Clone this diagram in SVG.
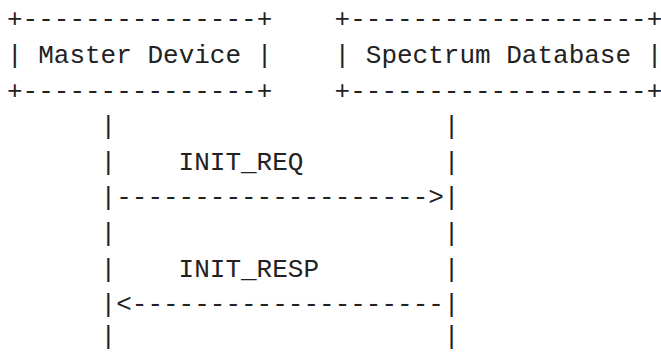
<svg xmlns="http://www.w3.org/2000/svg" width="661" height="352" viewBox="0 0 661 352">
<style>
text{font-family:"Liberation Mono","DejaVu Sans Mono",monospace;font-size:26px;fill:#222;white-space:pre}
</style>
<rect width="661" height="352" fill="#fff"/>
<g id="master-device">
<text x="7" y="27.4" xml:space="preserve">+---------------+</text>
<text x="7" y="63" xml:space="preserve">| Master Device |</text>
<text x="7" y="98.6" xml:space="preserve">+---------------+</text>
</g>
<g id="spectrum-database">
<text x="334.6" y="27.4" xml:space="preserve">+-------------------+</text>
<text x="334.6" y="63" xml:space="preserve">| Spectrum Database |</text>
<text x="334.6" y="98.6" xml:space="preserve">+-------------------+</text>
</g>
<g id="connectors">
<text x="100.6" y="134.2" xml:space="preserve">|                     |</text>
<text x="100.6" y="169.8" xml:space="preserve">|    INIT_REQ         |</text>
<text x="100.6" y="205.4" xml:space="preserve">|--------------------&gt;|</text>
<text x="100.6" y="241" xml:space="preserve">|                     |</text>
<text x="100.6" y="276.6" xml:space="preserve">|    INIT_RESP        |</text>
<text x="100.6" y="312.2" xml:space="preserve">|&lt;--------------------|</text>
<text x="100.6" y="344" xml:space="preserve">|                     |</text>
</g>
</svg>
